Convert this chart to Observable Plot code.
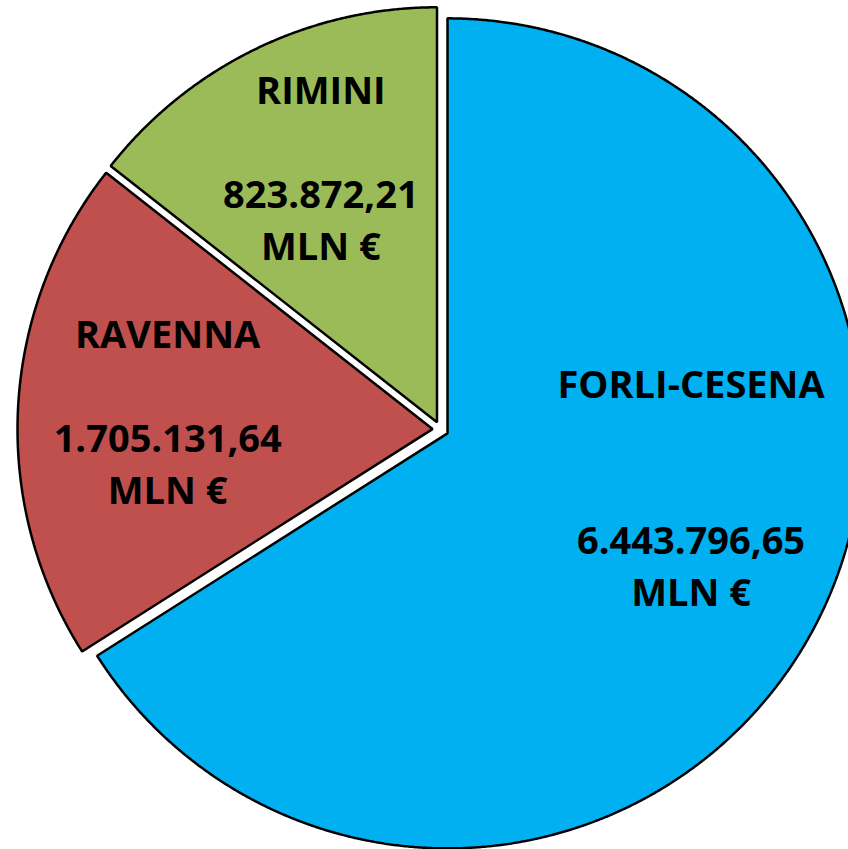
<!DOCTYPE html>
<html><head><meta charset="utf-8">
<script src="https://cdn.jsdelivr.net/npm/d3@7"></script>
<script src="https://cdn.jsdelivr.net/npm/@observablehq/plot@0.6"></script>
<style>html,body{margin:0;padding:0;background:#fff;overflow:hidden}</style>
</head><body><div id="chart"></div>
<script>
// ---- data ----
const provinces = ["FORLI-CESENA", "RAVENNA", "RIMINI"];
const amounts = [6443796.65, 1705131.64, 823872.21];   // printed values
const sliceShares = [66.0, 19.6, 14.4];                 // slice angles as drawn (%)
const unitLabel = "MLN €";
const colors = ["#00B0F0", "#C0504D", "#9BBB59"];

// ---- layout ----
const W = 848, H = 849, CX = 440, CY = 429, R = 415, EXPLODE = 8;
const labelLayout = [
  {angle: 102, radius: 0.60, blank: 2},
  {angle: 274.3, radius: 0.64, blank: 1},
  {angle: 335.7, radius: 0.68, blank: 1}
];
const FS = 38, LINE = 52;

const fmt = d3.formatLocale({decimal: ",", thousands: ".", grouping: [3], currency: ["", "€"]}).format(",.2f");

const rows = provinces.map((name, i) => ({name, amount: amounts[i], share: sliceShares[i], color: colors[i], i}));
const arcs = d3.pie().sort(null).value(d => d.share)(rows);

const off = EXPLODE / R;
const points = [];
const labels = [];
for (const a of arcs) {
  const mid = (a.startAngle + a.endAngle) / 2;
  const ex = off * Math.sin(mid), ey = off * Math.cos(mid);
  points.push({name: a.data.name, color: a.data.color, x: ex, y: ey});
  const n = Math.max(2, Math.ceil((a.endAngle - a.startAngle) / (Math.PI / 720)));
  for (let k = 0; k <= n; k++) {
    const t = a.startAngle + (a.endAngle - a.startAngle) * k / n;
    points.push({name: a.data.name, color: a.data.color, x: ex + Math.sin(t), y: ey + Math.cos(t)});
  }
  const L = labelLayout[a.data.i];
  const la = L.angle * Math.PI / 180;
  labels.push({
    x: ex + L.radius * Math.sin(la),
    y: ey + L.radius * Math.cos(la),
    text: a.data.name + "\n".repeat(L.blank + 1) + fmt(a.data.amount) + "\n" + unitLabel
  });
}

const chart = Plot.plot({
  width: W, height: H, margin: 0,
  x: {domain: [-CX / R, (W - CX) / R], range: [0, W], axis: null},
  y: {domain: [(CY - H) / R, CY / R], range: [H, 0], axis: null},
  color: {type: "identity"},
  style: {background: "#fff", overflow: "hidden"},
  marks: [
    Plot.line(points, {x: "x", y: "y", z: "name", fill: "color", stroke: "black", strokeWidth: 2.5, curve: "linear-closed", strokeLinejoin: "miter"}),
    Plot.text(labels, {x: "x", y: "y", text: "text", fontSize: FS, fontWeight: 700, fontFamily: "Open Sans", lineHeight: LINE / FS, lineAnchor: "middle", textAnchor: "middle", fill: "black"})
  ]
});
document.getElementById("chart").appendChild(chart);
</script>
</body></html>
